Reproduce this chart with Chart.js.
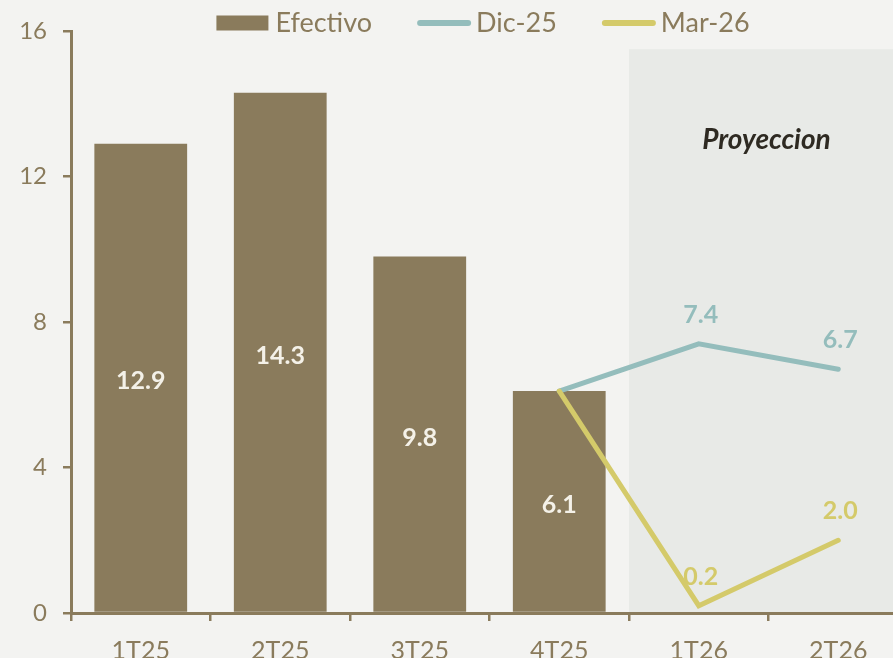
<!DOCTYPE html>
<html>
<head>
<meta charset="utf-8">
<script src="https://cdn.jsdelivr.net/npm/chart.js@4/dist/chart.umd.min.js"></script>
<style>
html,body{margin:0;padding:0;background:#f3f3f1;overflow:hidden;}
#wrap{width:908px;height:680px;}
</style>
</head>
<body>
<div id="wrap"><canvas id="c" width="908" height="680"></canvas></div>
<script>
const categories = ["1T25","2T25","3T25","4T25","1T26","2T26"];
const efectivo = [12.9, 14.3, 9.8, 6.1, null, null];
const dic25 = [null, null, null, 6.1, 7.4, 6.7];
const mar26 = [null, null, null, 6.1, 0.2, 2.0];
const yTicks = [0, 4, 8, 12, 16];
const projectionLabel = "Proyeccion";
const projectionStart = 4;

const BROWN = "#8a7b5c";
const TEAL = "#94bdbc";
const YELLOW = "#d4ca6a";
const BG = "#f3f3f1";
const SHADE = "#e8eae7";
const FONT = "Lato, 'Open Sans', sans-serif";

const decorPlugin = {
  id: "decor",
  beforeDraw(chart) {
    const {ctx, scales} = chart;
    const x = scales.x, y = scales.y;
    ctx.save();
    ctx.fillStyle = BG;
    ctx.fillRect(0, 0, chart.width, chart.height);
    const left = (x.getPixelForValue(projectionStart - 1) + x.getPixelForValue(projectionStart)) / 2;
    const top = y.getPixelForValue(15.5);
    const bottom = y.getPixelForValue(0);
    ctx.fillStyle = SHADE;
    ctx.fillRect(left, top, chart.width - left, bottom - top);
    ctx.restore();
  },
  afterDatasetsDraw(chart) {
    const {ctx, scales} = chart;
    const x = scales.x, y = scales.y;
    ctx.save();
    const barMeta = chart.getDatasetMeta(0);
    ctx.font = "bold 25px " + FONT;
    ctx.textAlign = "center";
    ctx.textBaseline = "middle";
    ctx.fillStyle = "#f4f1e8";
    barMeta.data.forEach((el, i) => {
      const v = efectivo[i];
      if (v == null) return;
      const cy = (y.getPixelForValue(v) + y.getPixelForValue(0)) / 2 + 3;
      ctx.fillText(v.toFixed(1), el.x, cy);
    });
    [[1, dic25, TEAL], [2, mar26, YELLOW]].forEach(([di, arr, col]) => {
      const meta = chart.getDatasetMeta(di);
      ctx.fillStyle = col;
      meta.data.forEach((el, i) => {
        if (i < projectionStart || arr[i] == null) return;
        ctx.fillText(arr[i].toFixed(1), el.x + 2, el.y - 29);
      });
    });
    const left = (x.getPixelForValue(projectionStart - 1) + x.getPixelForValue(projectionStart)) / 2;
    const cx = (left + chart.chartArea.right) / 2;
    ctx.font = "italic bold 28px " + FONT;
    ctx.fillStyle = "#2e2a22";
    ctx.fillText(projectionLabel, cx - 2, y.getPixelForValue(13));
    ctx.restore();
  },
  afterDraw(chart) {
    const {ctx} = chart;
    ctx.save();
    ctx.font = "27px " + FONT;
    ctx.textBaseline = "middle";
    ctx.textAlign = "left";
    const cy = 23;
    const items = chart.data.datasets.map(d => ({label: d.label, color: d.type === "line" ? d.borderColor : d.backgroundColor, line: d.type === "line"}));
    const markerW = 54, gapText = 5, gapItem = 45;
    let total = 0;
    items.forEach((it, i) => {
      total += markerW + gapText + ctx.measureText(it.label).width + (i < items.length - 1 ? gapItem : 0);
    });
    let xPos = 483 - total / 2;
    items.forEach(it => {
      if (it.line) {
        ctx.strokeStyle = it.color;
        ctx.lineWidth = 6;
        ctx.lineCap = "round";
        ctx.beginPath();
        ctx.moveTo(xPos + 3, cy);
        ctx.lineTo(xPos + markerW - 3, cy);
        ctx.stroke();
      } else {
        ctx.fillStyle = it.color;
        ctx.fillRect(xPos, cy - 7.5, markerW - 2, 15);
      }
      xPos += markerW + gapText;
      ctx.fillStyle = BROWN;
      ctx.fillText(it.label, xPos, cy);
      xPos += ctx.measureText(it.label).width + gapItem;
    });
    ctx.restore();
  }
};

new Chart(document.getElementById("c"), {
  data: {
    labels: categories,
    datasets: [
      {type: "bar", label: "Efectivo", data: efectivo, backgroundColor: BROWN, order: 3,
       categoryPercentage: 1.0, barPercentage: 0.665},
      {type: "line", label: "Dic-25", data: dic25, borderColor: TEAL, backgroundColor: TEAL,
       borderWidth: 5, pointRadius: 0, borderCapStyle: "round", tension: 0, order: 2, spanGaps: false},
      {type: "line", label: "Mar-26", data: mar26, borderColor: YELLOW, backgroundColor: YELLOW,
       borderWidth: 5, pointRadius: 0, borderCapStyle: "round", tension: 0, order: 1, spanGaps: false}
    ]
  },
  options: {
    responsive: false,
    animation: false,
    devicePixelRatio: 1,
    layout: {padding: {top: 31, left: 0, right: 0, bottom: 0}},
    plugins: {legend: {display: false}, tooltip: {enabled: false}},
    scales: {
      x: {
        grid: {display: true, drawOnChartArea: false, drawTicks: true, tickLength: 8, color: BROWN, lineWidth: 2.5, offset: true},
        border: {display: true, color: BROWN, width: 3},
        ticks: {color: BROWN, font: {family: FONT, size: 25}, padding: 15, maxRotation: 0},
        afterFit(scale) { scale.height = 67; }
      },
      y: {
        min: 0, max: 16,
        afterBuildTicks(scale) { scale.ticks = yTicks.map(v => ({value: v})); },
        grid: {display: true, drawOnChartArea: false, drawTicks: true, tickLength: 8, color: BROWN, lineWidth: 2.5},
        border: {display: true, color: BROWN, width: 3},
        ticks: {color: BROWN, font: {family: FONT, size: 24}, padding: 16},
        afterFit(scale) { scale.width = 71; }
      }
    }
  },
  plugins: [decorPlugin]
});
</script>
</body>
</html>
